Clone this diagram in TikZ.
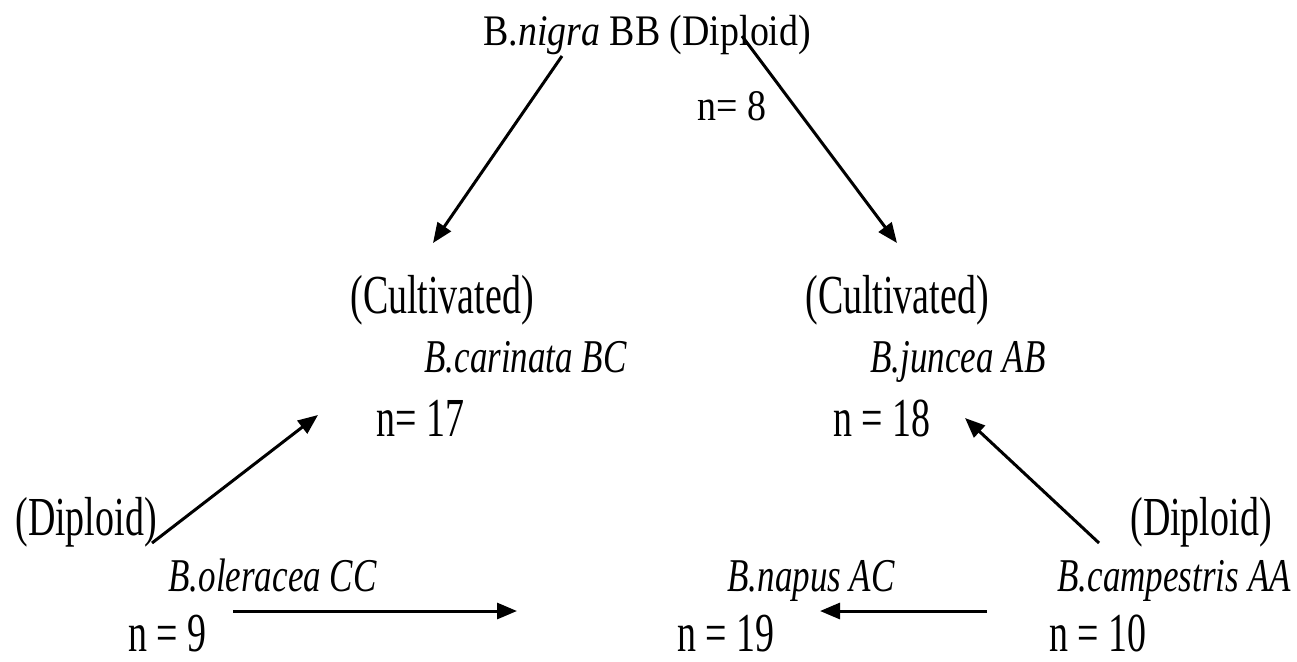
\documentclass[tikz,border=0pt]{standalone}
\usepackage{fontspec}
\setmainfont{Liberation Serif}
\newfontfamily\topfont[FakeStretch=0.87]{Liberation Serif}
\newfontfamily\lowfont[FakeStretch=0.69]{Liberation Serif}
\newfontfamily\spfont[FakeStretch=0.745]{Liberation Serif}
\usetikzlibrary{arrows.meta}
\tikzset{
  head/.style={font=\topfont\fontsize{21.8}{24}\selectfont, anchor=base west, inner sep=0pt},
  lab/.style={font=\lowfont\fontsize{27.5}{30}\selectfont, anchor=base west, inner sep=0pt},
  sp/.style={font=\spfont\itshape\fontsize{23.5}{26}\selectfont, anchor=base west, inner sep=0pt},
  cross/.style={-{Triangle[length=10pt,width=8pt]}, line width=1.5pt}
}

\begin{document}
\begin{tikzpicture}[x=0.5pt,y=-0.5pt]
  \useasboundingbox (0,0) rectangle (1297,661);

  % parents and hybrids
  \node[head] (nigra) at (483,45) {B.\textit{nigra} BB (Diploid)};
  \node[head] (n8) at (697,120) {n= 8};

  \node[lab] (cultL) at (350,313) {(Cultivated)};
  \node[sp] (carinata) at (424,372) {B.carinata BC};
  \node[lab] (n17) at (376,436) {n= 17};

  \node[lab] (cultR) at (805,313) {(Cultivated)};
  \node[sp] (juncea) at (870,372) {B.juncea AB};
  \node[lab] (n18) at (833,436) {n = 18};

  \node[lab] (dipL) at (15,535) {(Diploid)};
  \node[sp] (oleracea) at (168,591) {B.oleracea CC};
  \node[lab] (n9) at (128,651) {n = 9};

  \node[sp] (napus) at (727,591) {B.napus AC};
  \node[lab] (n19) at (677,651) {n = 19};

  \node[lab] (dipR) at (1130,535) {(Diploid)};
  \node[sp] (campestris) at (1057,591) {B.campestris AA};
  \node[lab] (n10) at (1049,651) {n = 10};

  % arrow ends
  \coordinate (bL) at (562,56);   \coordinate (bcT) at (433,243);
  \coordinate (bR) at (742,36);   \coordinate (bjT) at (897,243);
  \coordinate (cU) at (152,543);  \coordinate (bcB) at (318,415);
  \coordinate (aU) at (1099,543); \coordinate (bjB) at (965,418);
  \coordinate (cR) at (233,611);  \coordinate (acL) at (517,611);
  \coordinate (aL) at (987,611);  \coordinate (acR) at (820,611);

  \draw[cross] (bL) -- (bcT);
  \draw[cross] (bR) -- (bjT);
  \draw[cross] (cU) -- (bcB);
  \draw[cross] (aU) -- (bjB);
  \draw[cross] (cR) -- (acL);
  \draw[cross] (aL) -- (acR);
\end{tikzpicture}
\end{document}
